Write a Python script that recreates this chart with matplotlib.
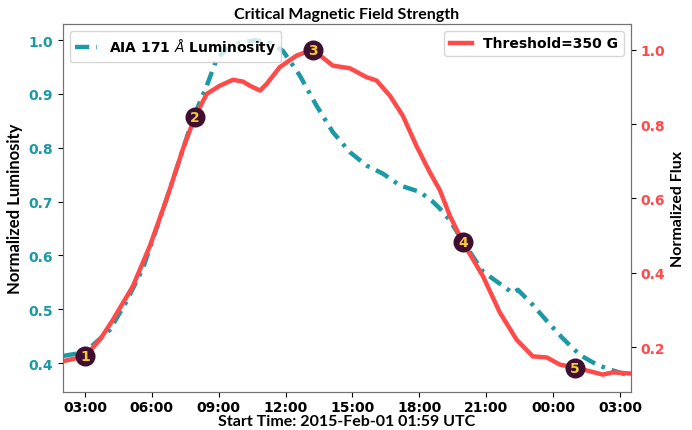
import numpy as np
import pandas as pd
import matplotlib
matplotlib.use("Agg")
import matplotlib.pyplot as plt
import matplotlib.dates as mdates

# hours after 2015-02-01 00:00
lum_hours = [2.0, 3.0, 4.12, 4.87, 5.60, 6.36, 7.11, 7.84, 8.46, 8.91, 9.35, 9.95,
             10.62, 11.30, 11.88, 12.64, 13.39, 14.12, 14.88, 15.63, 16.36, 17.13,
             18.02, 18.60, 18.92, 19.37, 19.95, 20.85, 22.19, 22.42, 23.09, 23.72,
             24.43, 25.20, 25.96, 26.54, 27.48]
lum_vals = [0.413, 0.42, 0.462, 0.515, 0.576, 0.668, 0.761, 0.854, 0.915, 0.965, 0.983,
            0.995, 1.0, 0.995, 0.98, 0.934, 0.878, 0.829, 0.792, 0.767, 0.752, 0.730,
            0.718, 0.70, 0.687, 0.665, 0.626, 0.570, 0.530, 0.536, 0.508, 0.478,
            0.446, 0.415, 0.397, 0.388, 0.376]

flux_hours = [2.0, 3.0, 3.67, 4.26, 5.15, 5.91, 6.66, 7.39, 7.93, 8.46, 9.05, 9.64,
              10.09, 10.40, 10.85, 11.15, 11.74, 12.49, 13.22, 14.12, 14.88, 15.63,
              16.08, 16.68, 17.26, 17.87, 18.47, 18.92, 19.37, 19.95, 20.85, 21.61,
              22.36, 23.09, 23.72, 24.30, 24.97, 25.65, 26.23, 26.68, 27.48]
flux_vals = [0.162, 0.175, 0.22, 0.274, 0.364, 0.472, 0.598, 0.732, 0.819, 0.881, 0.903,
             0.919, 0.914, 0.903, 0.89, 0.908, 0.953, 0.984, 1.0, 0.957, 0.95, 0.926,
             0.917, 0.876, 0.822, 0.741, 0.67, 0.622, 0.553, 0.482, 0.391, 0.293,
             0.22, 0.175, 0.172, 0.153, 0.145, 0.135, 0.126, 0.132, 0.129]

mark_hours = [3.0, 7.93, 13.22, 19.95, 24.97]
mark_vals = [0.175, 0.819, 1.0, 0.482, 0.145]
mark_labels = ['1', '2', '3', '4', '5']

t0 = pd.Timestamp('2015-02-01 00:00')
to_time = lambda h: [t0 + pd.Timedelta(hours=v) for v in h]

teal = '#1b9aa6'
red = '#ff4a4a'

fig = plt.figure(figsize=(6.92, 4.31), dpi=100)
ax1 = fig.add_axes([0.0906, 0.088, 0.8208, 0.854])
ax2 = ax1.twinx()

l1, = ax1.plot(to_time(lum_hours), lum_vals, color=teal, lw=3.2,
               dashes=(3.2, 1.6, 0.8, 1.6), label=r'AIA 171 $\AA$ Luminosity')
l2, = ax2.plot(to_time(flux_hours), flux_vals, color=red, lw=3.2,
               label='Threshold=350 G')

ax2.scatter(to_time(mark_hours), mark_vals, s=180, color='#3e0f30', zorder=5)
for t, v, s in zip(to_time(mark_hours), mark_vals, mark_labels):
    ax2.text(t, v, s, color='#f3c938', fontsize=10, fontweight='bold',
             ha='center', va='center', zorder=6)

ax1.set_xlim(t0 + pd.Timedelta(hours=2.0), t0 + pd.Timedelta(hours=27.48))
ax1.set_ylim(0.346, 1.030)
ax2.set_ylim(0.079, 1.069)
ax1.set_yticks([0.4, 0.5, 0.6, 0.7, 0.8, 0.9, 1.0])
ax2.set_yticks([0.2, 0.4, 0.6, 0.8, 1.0])

ax1.xaxis.set_major_locator(mdates.HourLocator(byhour=range(0, 24, 3)))
ax1.xaxis.set_major_formatter(mdates.DateFormatter('%H:%M'))

ax1.tick_params(axis='x', labelsize=10, colors='black', pad=2)
ax1.tick_params(axis='y', labelsize=10, labelcolor=teal)
ax2.tick_params(axis='y', labelsize=10, labelcolor=red)
for lab in ax1.get_xticklabels() + ax1.get_yticklabels() + ax2.get_yticklabels():
    lab.set_fontweight('bold')

for ax in (ax1, ax2):
    for sp in ax.spines.values():
        sp.set_color('0.45')

ax1.set_title('Critical Magnetic Field Strength', fontsize=11.5,
              fontweight='bold', family='Lato', pad=4)
ax1.set_xlabel('Start Time: 2015-Feb-01 01:59 UTC', fontsize=11.5,
               fontweight='bold', family='Lato', labelpad=0)
ax1.set_ylabel('Normalized Luminosity', fontsize=12, fontweight='bold', family='Lato')
ax2.set_ylabel('Normalized Flux', fontsize=11.5, fontweight='bold', family='Lato')

ax1.legend(handles=[l1], loc='upper left', handlelength=1.6,
           prop={'weight': 'bold', 'size': 10})
ax2.legend(handles=[l2], loc='upper right', handlelength=1.6,
           prop={'weight': 'bold', 'size': 10})

fig.savefig('out.png', dpi=100)
